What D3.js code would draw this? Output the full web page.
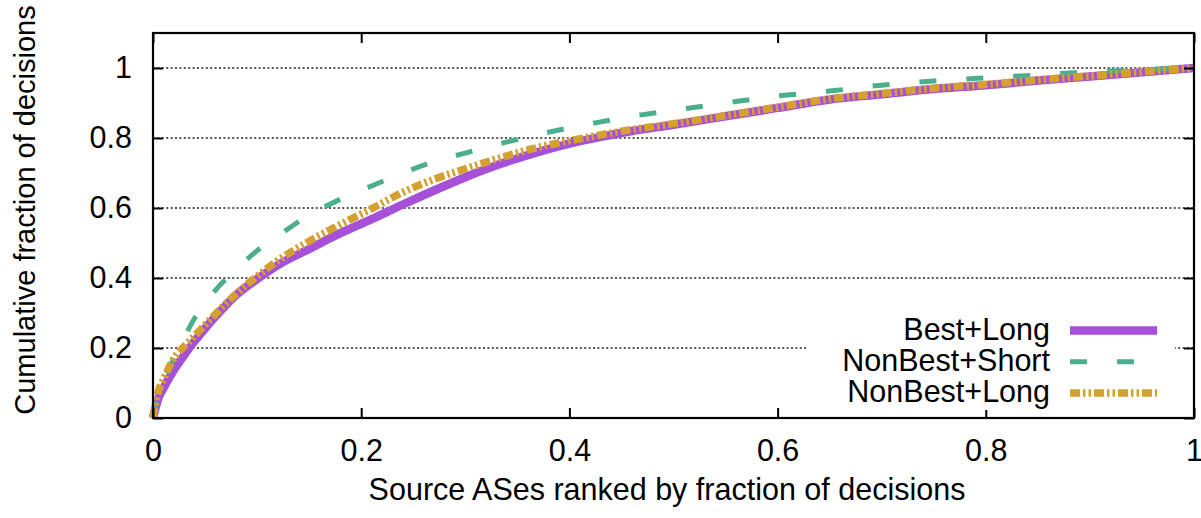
<!DOCTYPE html>
<html>
<head>
<meta charset="utf-8">
<script src="https://cdn.jsdelivr.net/npm/d3@7"></script>
<style>
  body { margin: 0; background: #fff; }
  text { font-family: "Liberation Sans", Arial, Helvetica, sans-serif; fill: #000; }
</style>
</head>
<body>
<div id="chart"></div>
<script>
// x positions (fraction of source ASes) shared by the three series
var xVals = [0, 0.005, 0.01, 0.02, 0.03, 0.04, 0.05, 0.06, 0.08, 0.10, 0.12, 0.15, 0.18, 0.21, 0.24, 0.27,
             0.30, 0.33, 0.36, 0.40, 0.43, 0.46, 0.50, 0.55, 0.60, 0.65, 0.70, 0.75, 0.80, 0.85, 0.90, 0.95, 1.0];

var bestLong = [0, 0.055, 0.085, 0.137, 0.18, 0.22, 0.256, 0.29, 0.352, 0.397, 0.437, 0.483, 0.528, 0.568, 0.61, 0.65,
                0.688, 0.722, 0.751, 0.784, 0.803, 0.82, 0.838, 0.862, 0.886, 0.91, 0.925, 0.94, 0.951, 0.964, 0.976, 0.988, 1.0];
var nonBestShort = [0, 0.07, 0.11, 0.17, 0.23, 0.285, 0.325, 0.365, 0.425, 0.478, 0.52, 0.58, 0.625, 0.663, 0.70, 0.733,
                    0.757, 0.781, 0.803, 0.829, 0.846, 0.862, 0.879, 0.90, 0.92, 0.934, 0.951, 0.963, 0.972, 0.98, 0.989, 0.995, 1.0];
var nonBestLong = [0, 0.075, 0.11, 0.17, 0.205, 0.235, 0.266, 0.297, 0.355, 0.405, 0.45, 0.505, 0.553, 0.598, 0.645, 0.682,
                   0.712, 0.74, 0.766, 0.792, 0.809, 0.824, 0.841, 0.864, 0.888, 0.912, 0.927, 0.942, 0.953, 0.966, 0.977, 0.989, 1.0];

var seriesNames = ["Best+Long", "NonBest+Short", "NonBest+Long"];
var xTicks = [0, 0.2, 0.4, 0.6, 0.8, 1];
var yTicks = [0, 0.2, 0.4, 0.6, 0.8, 1];

// styles
var styles = [
  { color: "#a64fd9", width: 8.5, dash: null },
  { color: "#4caf8c", width: 5, dash: "17,30" },
  { color: "#d6a031", width: 7.5, dash: "10,3,2.5,3,2.5,3" }
];

var W = 1201, H = 518;
var plotL = 153, plotR = 1194, plotT = 33, plotB = 418;
var fontSize = "30.5px";

var svg = d3.select("#chart").append("svg")
    .attr("width", W)
    .attr("height", H);

var x = d3.scaleLinear().domain([0, 1]).range([plotL, plotR]);
var y = d3.scaleLinear().domain([0, 1.1]).range([plotB, plotT]);

// dotted grid lines on y ticks
svg.append("g")
  .selectAll("line")
  .data(yTicks.filter(function(d) { return d > 0; }))
  .enter().append("line")
    .attr("x1", plotL).attr("x2", plotR)
    .attr("y1", function(d) { return y(d); })
    .attr("y2", function(d) { return y(d); })
    .attr("stroke", "#222")
    .attr("stroke-width", 1.3)
    .attr("stroke-dasharray", "2,2.4");

// curves
var allSeries = [bestLong, nonBestShort, nonBestLong];
var line = d3.line()
    .x(function(d, i) { return x(xVals[i]); })
    .y(function(d) { return y(d); })
    .curve(d3.curveMonotoneX);

allSeries.forEach(function(vals, k) {
  svg.append("path")
    .datum(vals)
    .attr("d", line)
    .attr("fill", "none")
    .attr("stroke", styles[k].color)
    .attr("stroke-width", styles[k].width)
    .attr("stroke-dasharray", styles[k].dash);
});

// axes with inward ticks
var fmt = function(d) { return String(d); };
svg.append("g")
  .attr("transform", "translate(0," + plotB + ")")
  .call(d3.axisBottom(x).tickValues(xTicks).tickFormat(fmt).tickSizeInner(-10).tickSizeOuter(0).tickPadding(21));
svg.append("g")
  .attr("transform", "translate(0," + plotT + ")")
  .call(d3.axisTop(x).tickValues(xTicks).tickFormat("").tickSizeInner(-10).tickSizeOuter(0));
svg.append("g")
  .attr("transform", "translate(" + plotL + ",0)")
  .call(d3.axisLeft(y).tickValues(yTicks).tickFormat(fmt).tickSizeInner(-10).tickSizeOuter(0).tickPadding(21));
svg.append("g")
  .attr("transform", "translate(" + plotR + ",0)")
  .call(d3.axisRight(y).tickValues(yTicks).tickFormat("").tickSizeInner(-10).tickSizeOuter(0));

svg.selectAll(".domain").remove();
svg.selectAll(".tick line").attr("stroke", "#000").attr("stroke-width", 2);
svg.selectAll(".tick text").style("font-size", fontSize).attr("fill", "#000");

// frame
svg.append("rect")
  .attr("x", plotL).attr("y", plotT)
  .attr("width", plotR - plotL).attr("height", plotB - plotT)
  .attr("fill", "none")
  .attr("stroke", "#000")
  .attr("stroke-width", 2.2);

// axis titles
svg.append("text")
  .attr("x", 667)
  .attr("y", 500)
  .attr("text-anchor", "middle")
  .style("font-size", fontSize)
  .text("Source ASes ranked by fraction of decisions");

svg.append("text")
  .attr("transform", "translate(35,210) rotate(-90)")
  .attr("text-anchor", "middle")
  .style("font-size", "29px")
  .text("Cumulative fraction of decisions");

// legend (opaque)
var legend = svg.append("g");
legend.append("rect")
  .attr("x", 806).attr("y", 314)
  .attr("width", 369).attr("height", 96)
  .attr("fill", "#fff");

seriesNames.forEach(function(name, k) {
  var by = 339.5 + k * 31.2;
  legend.append("text")
    .attr("x", 1050).attr("y", by)
    .attr("text-anchor", "end")
    .style("font-size", fontSize)
    .text(name);
  legend.append("line")
    .attr("x1", 1070).attr("x2", 1157)
    .attr("y1", by - 9).attr("y2", by - 9)
    .attr("stroke", styles[k].color)
    .attr("stroke-width", styles[k].width)
    .attr("stroke-dasharray", styles[k].dash);
});
</script>
</body>
</html>
